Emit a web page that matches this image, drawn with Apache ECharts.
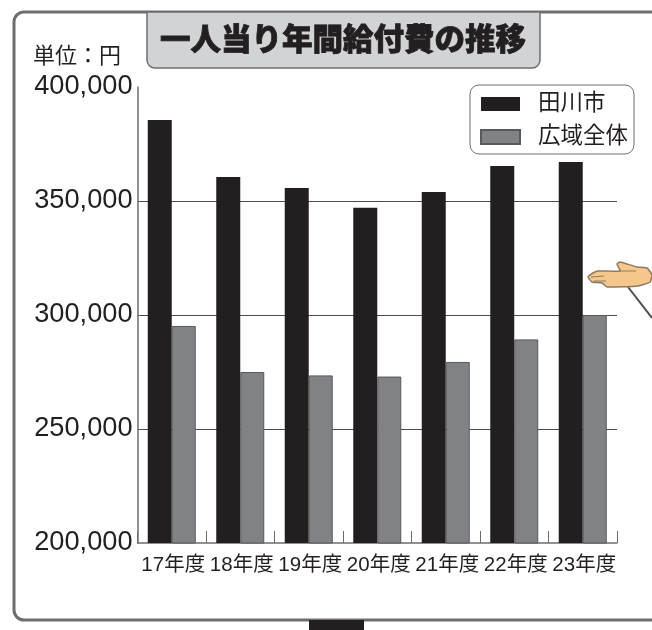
<!DOCTYPE html>
<html lang="ja">
<head>
<meta charset="utf-8">
<style>html,body{margin:0;padding:0;background:#fff;overflow:hidden}#chart{width:652px;height:630px}</style>
<script src="https://cdn.jsdelivr.net/npm/echarts@6/dist/echarts.min.js"></script>
</head>
<body>
<div id="chart"></div>
<script>
// 一人当り年間給付費（単位：円）
const titleText = '一人当り年間給付費の推移';
const unitText = '単位：円';
const categories = ['17年度', '18年度', '19年度', '20年度', '21年度', '22年度', '23年度'];
const tagawaName = '田川市';
const tagawaValues = [385500, 360500, 355700, 347000, 354000, 365300, 367100];
const regionName = '広域全体';
const regionValues = [295200, 275000, 273500, 273000, 279400, 289300, 300000];

const FONT = '"Liberation Sans","Noto Sans CJK JP",sans-serif';
const INK = '#231f20';
const EDGE = '#6d6e70';
const SKIN_LINE = '#8c7b5f';

const chart = echarts.init(document.getElementById('chart'), null, { renderer: 'canvas' });
chart.setOption({
  animation: false,
  backgroundColor: '#fff',
  textStyle: { fontFamily: FONT, color: INK },
  grid: { left: 137.5, top: 87, width: 479.5, height: 456, containLabel: false },
  title: {
    text: titleText,
    left: 160, top: 20,
    padding: 0,
    textStyle: { fontFamily: '"Noto Sans CJK JP"', fontWeight: 900, fontSize: 30.5, color: INK, textBorderColor: INK, textBorderWidth: 0.8, lineHeight: 36 },
    z: 5
  },
  legend: {
    left: 470, top: 85,
    orient: 'vertical',
    align: 'left',
    padding: [6, 6, 4, 10],
    itemGap: 7,
    itemWidth: 39,
    itemHeight: 14,
    backgroundColor: '#fff',
    borderColor: EDGE,
    borderWidth: 1,
    borderRadius: 9,
    icon: 'rect',
    inactiveColor: '#999',
    textStyle: { fontSize: 22.5, lineHeight: 26, color: INK, padding: [0, 0, 0, 13], fontFamily: FONT },
    data: [tagawaName, regionName],
    z: 6
  },
  xAxis: {
    type: 'category',
    data: categories,
    axisLine: { lineStyle: { color: EDGE, width: 1.5 } },
    axisTick: { show: true, inside: true, length: 12, lineStyle: { color: EDGE, width: 1 } },
    axisLabel: { fontSize: 20.5, color: INK, margin: 12, interval: 0, padding: [0, 0, 0, 3], fontFamily: FONT }
  },
  yAxis: {
    type: 'value',
    min: 200000, max: 400000, interval: 50000,
    axisLine: { show: true, lineStyle: { color: EDGE, width: 1.5 } },
    axisTick: { show: false },
    splitLine: { show: true, showMinLine: false, showMaxLine: false, lineStyle: { color: '#4d4d4f', width: 1 } },
    axisLabel: {
      fontSize: 27.2, color: INK, margin: 5, fontFamily: FONT,
      formatter: v => v.toLocaleString('en-US')
    }
  },
  series: [
    { name: tagawaName, type: 'bar', data: tagawaValues, barWidth: 24, barGap: 0, z: 3, itemStyle: { color: INK } },
    { name: regionName, type: 'bar', data: regionValues, barWidth: 24, barGap: 0, z: 3, itemStyle: { color: '#808285', borderColor: '#58595b', borderWidth: 1 } }
  ],
  graphic: [
    // outer rounded frame, open on the right edge
    { type: 'rect', z: 1, silent: true,
      shape: { x: 14, y: 12, width: 660, height: 608, r: 10 },
      style: { fill: 'transparent', stroke: EDGE, lineWidth: 3 } },
    // title tab hanging from the frame
    { type: 'rect', z: 2, silent: true,
      shape: { x: 147, y: 12, width: 393, height: 56, r: [0, 0, 8, 8] },
      style: { fill: '#d1d3d4', stroke: EDGE, lineWidth: 1.5 } },
    { type: 'text', z: 3, silent: true, x: 33, y: 44,
      style: { text: unitText, font: '22px "Noto Sans CJK JP"', fill: INK } },
    // dark block under the frame
    { type: 'rect', z: 3, silent: true, shape: { x: 309, y: 620, width: 55, height: 10 }, style: { fill: INK } },
    // pointing hand and arm on the right
    { type: 'line', z: 3, silent: true, shape: { x1: 628, y1: 287, x2: 652, y2: 318 }, style: { stroke: '#4d4d4f', lineWidth: 2 } },
    { type: 'polygon', z: 4, silent: true,
      shape: { smooth: 0.15, points: [[588, 277], [593, 273], [598, 271], [620, 271], [617, 264], [620, 262], [637, 267], [647, 268], [652, 275], [650, 282], [638, 286], [607, 287], [602, 283], [592, 282]] },
      style: { fill: '#f5c78c', stroke: SKIN_LINE, lineWidth: 1.5 } },
    { type: 'line', z: 5, silent: true, shape: { x1: 591, y1: 277, x2: 604, y2: 276 }, style: { stroke: SKIN_LINE, lineWidth: 1 } },
    { type: 'line', z: 5, silent: true, shape: { x1: 594, y1: 281, x2: 606, y2: 281 }, style: { stroke: SKIN_LINE, lineWidth: 1 } },
    { type: 'line', z: 5, silent: true, shape: { x1: 620, y1: 271, x2: 636, y2: 271 }, style: { stroke: SKIN_LINE, lineWidth: 1 } }
  ]
});
</script>
</body>
</html>
